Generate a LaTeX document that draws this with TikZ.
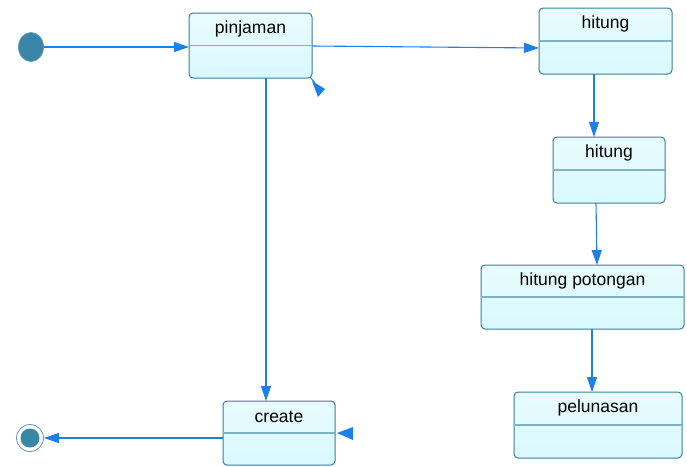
\documentclass[tikz,border=0pt]{standalone}
\usepackage{fontspec}
\setmainfont{Liberation Sans}
\usetikzlibrary{arrows.meta,calc,shapes.geometric}
\definecolor{boxfill}{HTML}{D9F9FD}
\definecolor{boxtop}{HTML}{E8FCFE}
\definecolor{boxdraw}{HTML}{3A7F98}
\definecolor{divline}{HTML}{7DB4C4}
\definecolor{arrowc}{HTML}{1B80E8}
\definecolor{dotc}{HTML}{3A86A8}
\tikzset{
  x=1pt,y=-1pt,
  statebox/.style={draw=boxdraw,line width=1pt,rounded corners=4pt,top color=boxtop,bottom color=boxfill},
  divider/.style={draw=divline,line width=1.2pt},
  lbl/.style={font=\fontsize{17.5pt}{20pt}\selectfont,text=black,inner sep=0pt},
  trans/.style={draw=arrowc,line width=1.1pt,-{Triangle[length=15pt,width=10pt]}},
}
\newcommand{\statebox}[6]{% name, x1,y1,x2,y2,label
  \path[statebox] (#2,#3) rectangle (#4,#5);
  \draw[divider] (#2,{(#3+#5)/2}) -- (#4,{(#3+#5)/2});
  \node[lbl] (#1) at ({(#2+#4)/2},{#3+15.5}) {#6};
}
\begin{document}
\begin{tikzpicture}
\useasboundingbox (0,0) rectangle (687,466);
\statebox{pinjaman}{189}{13}{312}{78}{pinjaman}
\statebox{hitungA}{539}{8}{672}{74}{hitung}
\statebox{hitungB}{553}{137}{665}{203}{hitung}
\statebox{potongan}{481}{265}{684}{329}{hitung potongan}
\statebox{pelunasan}{514}{392}{682}{458}{pelunasan}
\statebox{create}{223}{401}{335}{465}{create}
% initial
\node[ellipse,draw=boxdraw!80,line width=0.8pt,fill=dotc,minimum width=25pt,minimum height=29pt,inner sep=0pt] (init) at (31,47) {};
% final
\node[circle,draw=boxdraw!80,line width=0.8pt,minimum size=27pt,inner sep=0pt] (final) at (30,438) {};
\node[circle,fill=dotc,minimum size=19pt,inner sep=0pt] (finalin) at (30,438) {};
% coordinates
\coordinate (pinS) at (266,78);
\coordinate (creN) at (266,401);
\coordinate (h1S) at (594,74);
\coordinate (h2N) at (594,137);
\coordinate (h2S) at (596,203);
\coordinate (hpN) at (597,265);
\coordinate (hpS) at (592,329);
\coordinate (plN) at (592,392);
\coordinate (pinE) at (312,46);
\coordinate (h1W) at (539,48);
\coordinate (creW) at (223,438);
\coordinate (pinW) at (189,47);
% transitions
\draw[trans] (init.east) -- (pinW);
\draw[trans] (pinE) -- (h1W);
\draw[trans] (pinS) -- (creN);
\draw[trans] (h1S) -- (h2N);
\draw[trans] (h2S) -- (hpN);
\draw[trans] (hpS) -- (plN);
\draw[trans] (creW) -- (final.east);
% loose arrowheads
\draw[arrowc,line width=1pt] (310,77) -- (315,83);
\fill[arrowc] (312,81) -- (325,89) -- (318,97) -- cycle;
\fill[arrowc] (337,433) -- (353,427) -- (353,440) -- cycle;
\end{tikzpicture}
\end{document}
